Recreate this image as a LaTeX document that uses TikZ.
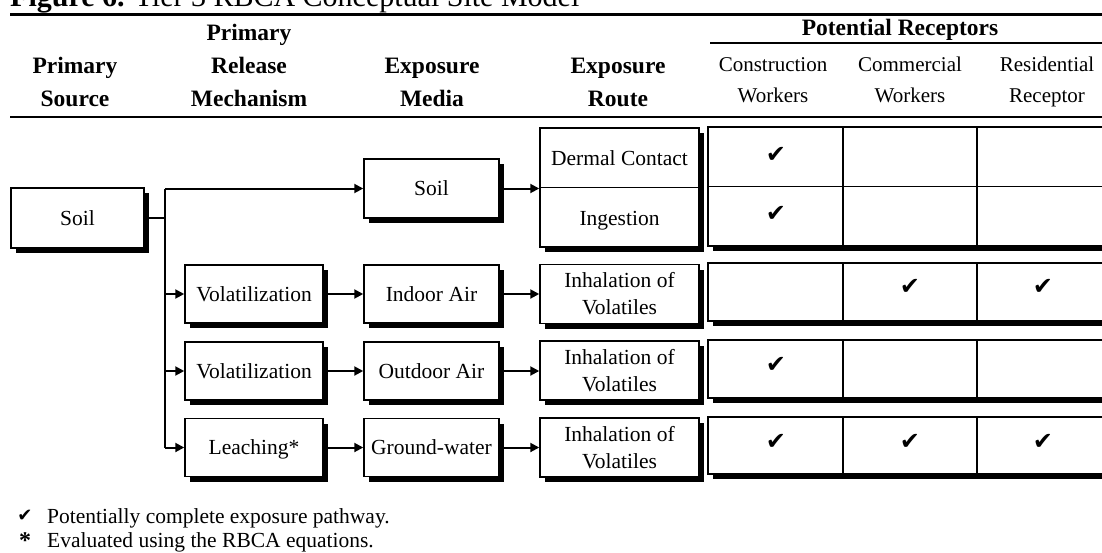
\documentclass[tikz,border=0pt]{standalone}
\usepackage{fontspec}
\setmainfont{Liberation Serif}
\newfontfamily\mysymfont{DejaVu Sans}
\usetikzlibrary{shadows,arrows.meta}
\newcommand{\myboxfont}{\fontsize{21.5}{27}\selectfont}
\newcommand{\myheadfont}{\fontsize{23.5}{28}\selectfont\bfseries}
\newcommand{\myrheadfont}{\fontsize{21}{25}\selectfont}
\newcommand{\mycheckfont}{\fontsize{24}{26}\selectfont\mysymfont}
\newcommand{\mytitlefont}{\fontsize{30}{36}\selectfont}
\begin{document}
\begin{tikzpicture}[x=1pt,y=-1pt,
  bx/.style={draw, line width=1.5pt, fill=white, inner sep=0pt, align=center, font=\myboxfont,
     drop shadow={fill=black, opacity=1, shadow xshift=5pt, shadow yshift=-5pt}},
  one/.style={text height=14pt, text depth=0pt},
  arr/.style={line width=2pt, -{Triangle[length=9pt,width=9pt]}},
  ln/.style={line width=2pt},
  cell/.style={line width=1.2pt},
  rule/.style={line width=2.2pt},
  hd/.style={font=\myheadfont, inner sep=0pt, anchor=base},
  rh/.style={font=\myrheadfont, inner sep=0pt, anchor=base},
  ck/.style={font=\mycheckfont, inner sep=0pt},
  ft/.style={font=\myboxfont, inner sep=0pt, anchor=base west},
]
\useasboundingbox (0,0) rectangle (1102,552);
\clip (0,0) rectangle (1102,552);
\fill[white] (0,0) rectangle (1102,552);

% title and rules
\node[font=\mytitlefont, inner sep=0pt, anchor=base west] (title) at (10,6.5) {\textbf{Figure 6.} Tier 3 RBCA Conceptual Site Model};
\coordinate (r0a) at (10,14.5);  \coordinate (r0b) at (1102,14.5);
\coordinate (r1a) at (710,43);   \coordinate (r1b) at (1102,43);
\coordinate (r2a) at (10,117);   \coordinate (r2b) at (1102,117);
\draw[rule, line width=2.8pt] (r0a) -- (r0b);
\draw[rule] (r1a) -- (r1b);
\draw[rule] (r2a) -- (r2b);

% headers
\node[hd] (hPR) at (900,35) {Potential Receptors};
\node[hd] (h21) at (249,40) {Primary};
\node[hd] (h11) at (75,73) {Primary};
\node[hd] (h12) at (75,106) {Source};
\node[hd] (h22) at (249,73) {Release};
\node[hd] (h23) at (249,106) {Mechanism};
\node[hd] (h31) at (432,73) {Exposure};
\node[hd] (h32) at (432,106) {Media};
\node[hd] (h41) at (618,73) {Exposure};
\node[hd] (h42) at (618,106) {Route};
\node[rh] (h51) at (773,71) {Construction};
\node[rh] (h52) at (773,102) {Workers};
\node[rh] (h61) at (910,71) {Commercial};
\node[rh] (h62) at (910,102) {Workers};
\node[rh] (h71) at (1047,71) {Residential};
\node[rh] (h72) at (1047,102) {Receptor};

% source and mechanism / media boxes
\node[bx, one, minimum width=133pt, minimum height=60pt] (src) at (77.5,218) {Soil};
\node[bx, one, minimum width=135pt, minimum height=59pt] (msoil) at (431.5,188.5) {Soil};
\node[bx, one, minimum width=138pt, minimum height=58pt] (mech1) at (254,294) {Volatilization};
\node[bx, one, minimum width=138pt, minimum height=58pt] (mech2) at (254,371) {Volatilization};
\node[bx, one, minimum width=138pt, minimum height=58pt] (mech3) at (254,447.5) {Leaching*};
\node[bx, one, minimum width=135pt, minimum height=58pt] (med1) at (431.5,294) {Indoor Air};
\node[bx, one, minimum width=135pt, minimum height=58pt] (med2) at (431.5,371) {Outdoor Air};
\node[bx, one, minimum width=135pt, minimum height=58pt] (med3) at (431.5,447.5) {Ground-water};

% route boxes
\node[bx, minimum width=159pt, minimum height=119pt] (rt1) at (619.5,187.5) {};
\draw[cell] (rt1.west) -- (rt1.east);
\node[font=\myboxfont, inner sep=0pt, one] (rt1a) at (619.5,158) {Dermal Contact};
\node[font=\myboxfont, inner sep=0pt, one] (rt1b) at (619.5,218) {Ingestion};
\node[bx, minimum width=159pt, minimum height=59pt] (rt2) at (619.5,294) {Inhalation of\\Volatiles};
\node[bx, minimum width=159pt, minimum height=59pt] (rt3) at (619.5,370.5) {Inhalation of\\Volatiles};
\node[bx, minimum width=159pt, minimum height=59pt] (rt4) at (619.5,447.5) {Inhalation of\\Volatiles};

% receptor table
\node[bx, minimum width=403pt, minimum height=119pt] (t1) at (909.5,186.5) {};
\node[bx, minimum width=403pt, minimum height=58pt] (t2) at (909.5,292) {};
\node[bx, minimum width=403pt, minimum height=58pt] (t3) at (909.5,369) {};
\node[bx, minimum width=403pt, minimum height=57pt] (t4) at (909.5,445.5) {};
\draw[cell] (t1.west) -- (t1.east);
\coordinate (v1) at (843,0);
\coordinate (v2) at (977,0);
\foreach \t in {t1,t2,t3,t4}{
  \draw[cell] (v1 |- \t.north) -- (v1 |- \t.south);
  \draw[cell] (v2 |- \t.north) -- (v2 |- \t.south);
}

% checks
\node[ck] (c11) at (776,155) {✔};
\node[ck] (c12) at (776,214) {✔};
\node[ck] (c22) at (910,287) {✔};
\node[ck] (c23) at (1043,287) {✔};
\node[ck] (c31) at (776,365) {✔};
\node[ck] (c41) at (776,442) {✔};
\node[ck] (c42) at (910,442) {✔};
\node[ck] (c43) at (1043,442) {✔};

% connectors
\coordinate (tt) at (165,188.5);
\coordinate (tm) at (165,218);
\coordinate (tb) at (165,447.5);
\draw[ln] (src.east) -- (tm);
\draw[ln] (tt) -- (tb);
\draw[arr] (tt) -- (msoil.west);
\draw[arr] (mech1.west -| tt) -- (mech1.west);
\draw[arr] (mech2.west -| tt) -- (mech2.west);
\draw[arr] (tb) -- (mech3.west);
\draw[arr] (mech1.east) -- (med1.west);
\draw[arr] (mech2.east) -- (med2.west);
\draw[arr] (mech3.east) -- (med3.west);
\draw[arr] (msoil.east) -- (msoil.east -| rt1.west);
\draw[arr] (med1.east) -- (med1.east -| rt2.west);
\draw[arr] (med2.east) -- (med2.east -| rt3.west);
\draw[arr] (med3.east) -- (med3.east -| rt4.west);

% footnotes
\node[font=\fontsize{18}{20}\selectfont\mysymfont, inner sep=0pt] (fn1s) at (25,516) {✔};
\node[ft] (fn1) at (47,523) {Potentially complete exposure pathway.};
\node[font=\fontsize{24}{26}\selectfont\bfseries, inner sep=0pt] (fn2s) at (25,541) {*};
\node[ft] (fn2) at (47,547) {Evaluated using the RBCA equations.};
\end{tikzpicture}
\end{document}
